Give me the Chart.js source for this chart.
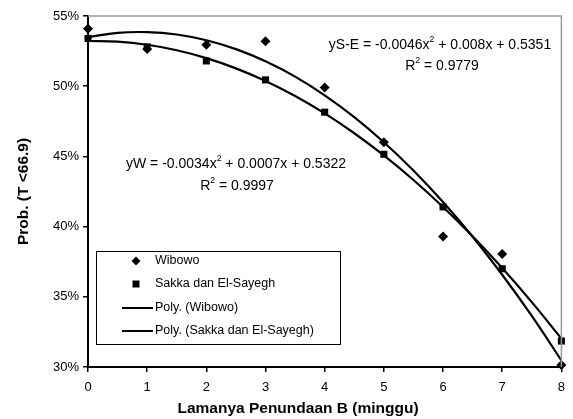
<!DOCTYPE html>
<html><head><meta charset="utf-8">
<script src="https://cdn.jsdelivr.net/npm/chart.js@4.4.0/dist/chart.umd.min.js"></script>
<style>html,body{margin:0;padding:0;background:#fff;}#wrap{position:relative;width:573px;height:419px;}</style>
</head><body><div id="wrap"><canvas id="c" width="573" height="419"></canvas></div>
<script>
const weeks = [0, 1, 2, 3, 4, 5, 6, 7, 8];
const wibowo = [54.1, 52.65, 52.95, 53.2, 49.9, 46.0, 39.3, 38.05, 30.15];
const sakka = [53.4, 52.8, 51.8, 50.45, 48.15, 45.15, 41.4, 37.0, 31.85];
const trendX = [0, 0.5, 1, 1.5, 2, 2.5, 3, 3.5, 4, 4.5, 5, 5.5, 6, 6.5, 7, 7.5, 8];
const polyWibowo = [53.5, 53.8, 53.85, 53.68, 53.27, 52.64, 51.77, 50.68, 49.35, 47.8, 46.01, 44.0, 41.75, 39.28, 36.57, 33.64, 30.47];
const polySakka = [53.22, 53.17, 52.95, 52.56, 52.0, 51.27, 50.37, 49.3, 48.06, 46.65, 45.07, 43.32, 41.4, 39.31, 37.05, 34.62, 32.02];
const yTicks = [30, 35, 40, 45, 50, 55];
const xTicks = [0, 1, 2, 3, 4, 5, 6, 7, 8];
const seriesNames = ['Wibowo', 'Sakka dan El-Sayegh', 'Poly. (Wibowo)', 'Poly. (Sakka dan El-Sayegh)'];
const eqUpper = [['yS-E = -0.0046x', false], ['2', true], [' + 0.008x + 0.5351', false]];
const r2Upper = [['R', false], ['2', true], [' = 0.9779', false]];
const eqLower = [['yW = -0.0034x', false], ['2', true], [' + 0.0007x + 0.5322', false]];
const r2Lower = [['R', false], ['2', true], [' = 0.9997', false]];
const xTitle = 'Lamanya Penundaan B (minggu)';
const yTitle = 'Prob. (T <66.9)';

const FONT = "'Liberation Sans', Arial, sans-serif";
const pts = (xs, ys) => xs.map((x, i) => ({x: x, y: ys[i]}));

function drawRich(ctx, parts, cx, cy, size) {
  const supSize = size * 0.62;
  let total = 0;
  parts.forEach(([t, sup]) => {
    ctx.font = (sup ? supSize : size) + 'px ' + FONT;
    total += ctx.measureText(t).width;
  });
  let x = cx - total / 2;
  ctx.textBaseline = 'middle';
  ctx.textAlign = 'left';
  parts.forEach(([t, sup]) => {
    ctx.font = (sup ? supSize : size) + 'px ' + FONT;
    ctx.fillText(t, x, sup ? cy - size * 0.38 : cy);
    x += ctx.measureText(t).width;
  });
}

const decor = {
  id: 'decor',
  afterDraw(chart) {
    const ctx = chart.ctx;
    const a = chart.chartArea;
    ctx.save();
    ctx.strokeStyle = '#9a9a9a';
    ctx.lineWidth = 1.5;
    ctx.beginPath();
    ctx.moveTo(a.left, a.top);
    ctx.lineTo(a.right, a.top);
    ctx.lineTo(a.right, a.bottom);
    ctx.stroke();
    ctx.fillStyle = '#000';
    drawRich(ctx, eqUpper, 440, 45, 14);
    drawRich(ctx, r2Upper, 442, 66, 14);
    drawRich(ctx, eqLower, 236, 164, 14);
    drawRich(ctx, r2Lower, 237, 186, 14);
    ctx.font = 'bold 15.5px ' + FONT;
    ctx.textAlign = 'center';
    ctx.textBaseline = 'middle';
    ctx.fillText(xTitle, 298, 409);
    ctx.fillStyle = '#fff';
    ctx.fillRect(96, 251, 244, 93);
    ctx.strokeStyle = '#000';
    ctx.lineWidth = 1;
    ctx.strokeRect(96.5, 251.5, 244, 93);
    ctx.fillStyle = '#000';
    const rows = [261, 284, 308, 331];
    ctx.beginPath();
    ctx.moveTo(136, rows[0] - 4.5); ctx.lineTo(140.5, rows[0]); ctx.lineTo(136, rows[0] + 4.5); ctx.lineTo(131.5, rows[0]); ctx.closePath(); ctx.fill();
    ctx.fillRect(132.5, rows[1] - 3.5, 7, 7);
    ctx.lineWidth = 2;
    [rows[2], rows[3]].forEach(y => { ctx.beginPath(); ctx.moveTo(122, y); ctx.lineTo(153, y); ctx.stroke(); });
    ctx.font = '12.5px ' + FONT;
    ctx.textAlign = 'left';
    ctx.textBaseline = 'middle';
    seriesNames.forEach((n, i) => ctx.fillText(n, 155, rows[i]));
    ctx.restore();
  }
};

new Chart(document.getElementById('c'), {
  type: 'scatter',
  data: {
    datasets: [
      {label: seriesNames[0], data: pts(weeks, wibowo), pointStyle: 'rectRot', pointRadius: 5, backgroundColor: '#000', borderColor: '#000', borderWidth: 0, showLine: false, clip: false},
      {label: seriesNames[1], data: pts(weeks, sakka), pointStyle: 'rect', pointRadius: 5, backgroundColor: '#000', borderColor: '#000', borderWidth: 0, showLine: false, clip: false},
      {label: seriesNames[2], data: pts(trendX, polyWibowo), showLine: true, pointRadius: 0, borderColor: '#000', borderWidth: 2.2, tension: 0.4, fill: false},
      {label: seriesNames[3], data: pts(trendX, polySakka), showLine: true, pointRadius: 0, borderColor: '#000', borderWidth: 2.2, tension: 0.4, fill: false}
    ]
  },
  options: {
    responsive: false,
    animation: false,
    devicePixelRatio: 1,
    layout: {padding: {top: 16, right: 10, left: 0, bottom: 0}},
    plugins: {legend: {display: false}, tooltip: {enabled: false}},
    scales: {
      x: {
        type: 'linear', min: 0, max: 8,
        afterFit: s => { s.height = 52; },
        afterBuildTicks: s => { s.ticks = xTicks.map(v => ({value: v})); },
        grid: {display: true, drawOnChartArea: false, drawTicks: true, tickLength: 5, color: '#000', lineWidth: 1.5},
        border: {display: true, color: '#000', width: 2},
        ticks: {color: '#000', padding: 8, font: {family: FONT, size: 13}, maxRotation: 0},
        title: {display: false}
      },
      y: {
        type: 'linear', min: 30, max: 55,
        afterFit: s => { s.width = 88; },
        afterBuildTicks: s => { s.ticks = yTicks.map(v => ({value: v})); },
        grid: {display: true, drawOnChartArea: false, drawTicks: true, tickLength: 5, color: '#000', lineWidth: 1.5},
        border: {display: true, color: '#000', width: 2},
        ticks: {color: '#000', padding: 4, font: {family: FONT, size: 13}, callback: v => v + '%'},
        title: {display: true, text: yTitle, color: '#000', font: {family: FONT, size: 15.5, weight: 'bold'}, padding: {top: 14, bottom: 0}}
      }
    }
  },
  plugins: [decor]
});
</script></body></html>
